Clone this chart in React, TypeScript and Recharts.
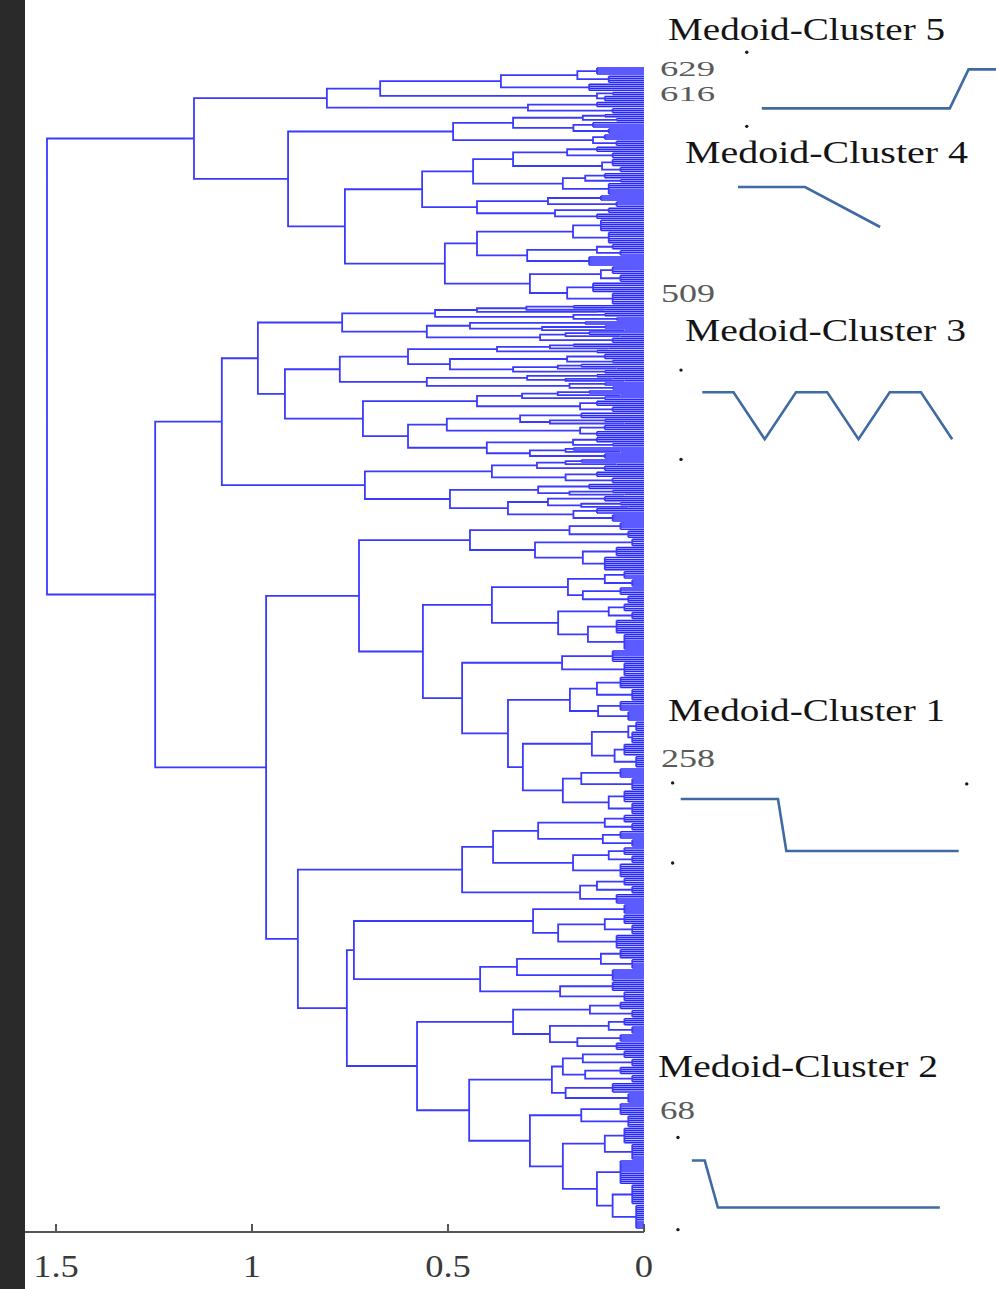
import React from 'react'
import { LineChart, Line, XAxis, YAxis, ComposedChart, Scatter } from 'recharts'

// dendrogram nodes: [height, leaves] is a tight clump near 0, [height, upper, lower] a merge
type Node = [number, number] | [number, Node, Node]

const cluster5Tree: Node = [0.809,
  [0.673,
    [0.365, [0.17, [0.12, 4], [0.09, 4]], [0.14, 4]],
    [0.12, [0.08, 2], [0.1, 3]]],
  [0.296, [0.12, 3], [0.08, 3]]]

const cluster4Tree: Node = [0.908,
  [0.487,
    [0.334, [0.156, [0.1, 2], [0.07, 2]], [0.18, [0.13, 3], [0.09, 3]]],
    [0.13, [0.1, 3], [0.07, 3]]],
  [0.763,
    [0.566,
      [0.436,
        [0.334, [0.196, [0.12, 3], [0.08, 3]], [0.107, [0.08, 4], [0.06, 3]]],
        [0.207, [0.15, [0.1, 3], [0.06, 2]], [0.09, 6]]],
      [0.426, [0.245, [0.11, 3], [0.07, 3]], [0.227, [0.09, 3], [0.12, 3]]]],
    [0.508,
      [0.426, [0.181, [0.11, 6], [0.09, 6]], [0.298, [0.12, [0.08, 3], [0.06, 3]], [0.14, 5]]],
      [0.291, [0.11, [0.08, 4], [0.06, 4]], [0.196, [0.13, 5], [0.08, 6]]]]]]

const cluster3aTree: Node = [0.985,
  [0.77,
    [0.533,
      [0.426, [0.3, [0.18, 2], [0.1, 1]], [0.12, 1]],
      [0.18, [0.1, 2], [0.07, 2]]],
    [0.554,
      [0.444, [0.15, 2], [0.26, [0.1, 2], [0.05, 1]]],
      [0.265, [0.2, [0.14, 2], [0.06, 1]], [0.08, 3]]]],
  [0.916,
    [0.776,
      [0.602,
        [0.375, [0.24, [0.18, 2], [0.09, 1]], [0.12, 2]],
        [0.495, [0.196, [0.1, 3], [0.08, 2]], [0.334, [0.22, [0.16, 2], [0.07, 1]], [0.1, 2]]]],
      [0.554, [0.298, [0.12, 2], [0.2, [0.08, 1], [0.05, 1]]], [0.19, [0.1, 2], [0.08, 2]]]],
    [0.717,
      [0.426, [0.311, [0.22, [0.14, 2], [0.06, 1]], [0.1, 2]], [0.163, [0.12, 3], [0.08, 3]]],
      [0.602,
        [0.503, [0.316, [0.16, 3], [0.24, [0.1, 2], [0.05, 1]]], [0.163, [0.1, 3], [0.12, 3]]],
        [0.401, [0.181, [0.12, 3], [0.08, 2]], [0.291, [0.2, [0.18, 2], [0.06, 1]], [0.1, 3]]]]]]]

const cluster3bTree: Node = [0.712,
  [0.388, [0.273, [0.2, [0.16, 2], [0.07, 1]], [0.1, 3]], [0.2, [0.12, 3], [0.08, 3]]],
  [0.495,
    [0.27, [0.14, 3], [0.19, [0.08, 2], [0.05, 1]]],
    [0.347, [0.245, [0.1, 3], [0.16, [0.06, 2], [0.04, 1]]], [0.18, [0.12, 3], [0.08, 4]]]]]

const cluster1Tree: Node = [0.727,
  [0.444,
    [0.19, [0.06, 4], [0.04, 4]],
    [0.278, [0.03, 4], [0.156, [0.07, 5], [0.1, 7]]]],
  [0.564,
    [0.388,
      [0.194, [0.1, [0.05, 4], [0.03, 4]], [0.156, [0.06, 4], [0.04, 4]]],
      [0.219, [0.09, [0.05, 4], [0.03, 4]], [0.143, [0.07, 7], [0.05, 8]]]],
    [0.464,
      [0.209, [0.08, 6], [0.05, 7]],
      [0.347,
        [0.189, [0.12, [0.06, 6], [0.03, 6]], [0.117, [0.06, 5], [0.04, 5]]],
        [0.309,
          [0.133, [0.04, [0.02, 5], [0.03, 6]], [0.075, [0.05, 6], [0.02, 6]]],
          [0.207, [0.16, [0.06, 5], [0.03, 6]], [0.09, [0.05, 6], [0.03, 6]]]]]]]]

const cluster2Tree: Node = [0.883,
  [0.464,
    [0.385,
      [0.27, [0.1, [0.05, 4], [0.03, 4]], [0.105, [0.06, 4], [0.03, 4]]],
      [0.181, [0.09, [0.05, 4], [0.03, 4]], [0.06, 7]]],
    [0.163, [0.12, [0.05, 4], [0.03, 4]], [0.07, 5]]],
  [0.758,
    [0.74,
      [0.283, [0.05, 5], [0.219, [0.1, [0.05, 5], [0.03, 5]], [0.07, 7]]],
      [0.418, [0.324, [0.11, [0.06, 5], [0.03, 5]], [0.08, 6]], [0.214, [0.08, 5], [0.05, 5]]]],
    [0.579,
      [0.334, [0.138, [0.06, 4], [0.03, 4]], [0.24, [0.09, [0.05, 4], [0.03, 4]], [0.17, [0.06, 4], [0.07, 4]]]],
      [0.446,
        [0.235, [0.207, [0.156, [0.05, 4], [0.03, 4]], [0.15, [0.06, 4], [0.03, 4]]], [0.2, [0.08, 5], [0.04, 5]]],
        [0.291,
          [0.16, [0.06, 6], [0.04, 6]],
          [0.207, [0.1, [0.05, 8], [0.03, 8]], [0.12, [0.06, 12], [0.08, [0.03, 10], [0.02, 12]]]]]]]]]

// top merges: clusters 5+4, 3a+3b, 1+2, then the two halves, then the root
const topHeights = [1.148, 1.077, 0.964, 1.247, 1.523]

const xTicks = [1.5, 1, 0.5, 0]

// medoid curves (time step, value)
const medoid5T = [0, 10, 11, 13]
const medoid5V = [0, 0, 1, 1]
const medoid4T = [0, 2, 4.24]
const medoid4V = [1, 1, 0]
const medoid3T = [0, 1, 2, 3, 4, 5, 6, 7, 8]
const medoid3V = [1, 1, 0, 1, 1, 0, 1, 1, 0]
const medoid1T = [0, 3.5, 3.8, 10]
const medoid1V = [1, 1, 0, 0]
const medoid2T = [0, 0.52, 1.05, 10]
const medoid2V = [1, 1, 0, 0]

const medoid5Dots = [[-0.8, 1.44], [-0.8, -0.46]]
const medoid3Dots = [[-0.68, 1.47], [-0.68, -0.43]]
const medoid1Dots = [[-0.29, 1.31], [-0.29, -0.23], [10.29, 1.29]]
const medoid2Dots = [[-0.56, 1.49], [-0.56, -0.47]]

const clusterNames = ['Medoid-Cluster 5', 'Medoid-Cluster 4', 'Medoid-Cluster 3', 'Medoid-Cluster 1', 'Medoid-Cluster 2']
const leafNames = ['629', '616', '509', '258', '68']

const W = 996
const H = 1289
const PLOT_LEFT = 25
const PLOT_RIGHT = 644
const PLOT_TOP = 64
const PLOT_BOTTOM = 1232
const X_MAX = (PLOT_RIGHT - PLOT_LEFT) / 392
const SERIF = '"Liberation Serif", "Times New Roman", serif'

type Pt = { x: number | null; y: number | null }

function buildDendrogram(root: Node) {
  const links: Pt[] = []
  const leaves: Pt[] = []
  let next = 0
  const walk = (n: Node): { y: number; h: number } => {
    if (n.length === 2) {
      const [h, count] = n
      const first = next
      for (let i = 0; i < count; i++) {
        leaves.push({ x: 0, y: next }, { x: h, y: next }, { x: null, y: null })
        next++
      }
      const last = next - 1
      if (count > 1) links.push({ x: h, y: first }, { x: h, y: last }, { x: null, y: null })
      return { y: (first + last) / 2, h }
    }
    const [h, a, b] = n
    const top = walk(a)
    const bottom = walk(b)
    links.push(
      { x: top.h, y: top.y }, { x: h, y: top.y },
      { x: h, y: bottom.y }, { x: bottom.h, y: bottom.y },
      { x: null, y: null },
    )
    return { y: (top.y + bottom.y) / 2, h }
  }
  walk(root)
  return { links, leaves, count: next }
}

const [hA, hBtop, hBbottom, hB, hRoot] = topHeights
const fullTree: Node = [hRoot,
  [hA, cluster5Tree, cluster4Tree],
  [hB, [hBtop, cluster3aTree, cluster3bTree], [hBbottom, cluster1Tree, cluster2Tree]]]

const dendro = buildDendrogram(fullTree)
const leafPad = (4 * (dendro.count - 1)) / 1160

function AxisTick(props: any) {
  const { x, payload } = props
  return (
    <g>
      <line x1={x} x2={x} y1={PLOT_BOTTOM} y2={PLOT_BOTTOM - 8} stroke="#555" strokeWidth={2} />
      <text
        transform={`translate(${x},${PLOT_BOTTOM + 45}) scale(1.18,1)`}
        textAnchor="middle"
        fontFamily={SERIF}
        fontSize={31}
        fill="#3a3a3a"
      >
        {payload.value}
      </text>
    </g>
  )
}

type SketchProps = {
  box: [number, number, number, number]
  tDomain: [number, number]
  vDomain: [number, number]
  ts: number[]
  vs: number[]
  dots?: number[][]
}

function MedoidSketch({ box, tDomain, vDomain, ts, vs, dots = [] }: SketchProps) {
  const line = ts.map((t, i) => ({ t, v: vs[i] }))
  const dotData = dots.map(([t, v]) => ({ t, v }))
  return (
    <div style={{ position: 'absolute', left: box[0], top: box[1] }}>
      <ComposedChart width={box[2]} height={box[3]} margin={{ top: 0, right: 0, bottom: 0, left: 0 }}>
        <XAxis type="number" dataKey="t" domain={tDomain} hide allowDataOverflow />
        <YAxis type="number" dataKey="v" domain={vDomain} hide allowDataOverflow />
        <Line data={line} dataKey="v" stroke="#3f6aa3" strokeWidth={2.6} dot={false} isAnimationActive={false} />
        <Scatter
          data={dotData}
          dataKey="v"
          isAnimationActive={false}
          shape={(p: any) => <circle cx={p.cx} cy={p.cy} r={1.7} fill="#1a1a1a" />}
        />
      </ComposedChart>
    </div>
  )
}

const labelSpots = [
  { x: 668, y: 40, w: 277 },
  { x: 685, y: 163, w: 283 },
  { x: 685, y: 341, w: 281 },
  { x: 668, y: 721, w: 277 },
  { x: 658, y: 1077, w: 280 },
]
const leafSpots = [
  { x: 660, y: 76, w: 55 },
  { x: 660, y: 101, w: 55 },
  { x: 661, y: 302, w: 54 },
  { x: 661, y: 767, w: 54 },
  { x: 660, y: 1119, w: 35 },
]

export default function App() {
  return (
    <div style={{ position: 'absolute', left: 0, top: 0, width: W, height: H, background: '#fff', overflow: 'hidden' }}>
      <div style={{ position: 'absolute', left: 0, top: 0, width: 25, height: H, background: '#2a2a2a' }} />
      <LineChart width={W} height={H} margin={{ top: PLOT_TOP, right: W - PLOT_RIGHT, bottom: 12, left: PLOT_LEFT }}>
        <XAxis
          type="number"
          dataKey="x"
          domain={[0, X_MAX]}
          reversed
          allowDataOverflow
          ticks={xTicks}
          interval={0}
          height={H - 12 - PLOT_BOTTOM}
          axisLine={{ stroke: '#555', strokeWidth: 2 }}
          tickLine={false}
          tick={<AxisTick />}
        />
        <YAxis type="number" dataKey="y" domain={[-leafPad, dendro.count - 1 + leafPad]} reversed hide allowDataOverflow />
        <Line data={dendro.leaves} dataKey="y" stroke="#2626ff" strokeWidth={1.5} dot={false} connectNulls={false} isAnimationActive={false} />
        <Line data={dendro.links} dataKey="y" stroke="#3a3aff" strokeWidth={1.8} dot={false} connectNulls={false} isAnimationActive={false} />
      </LineChart>

      <MedoidSketch box={[743.2, 45.6, 263.2, 85.8]} tDomain={[-1, 13]} vDomain={[-0.6, 1.6]} ts={medoid5T} vs={medoid5V} dots={medoid5Dots} />
      <MedoidSketch box={[728, 175, 157.5, 64]} tDomain={[-0.3, 4.4]} vDomain={[-0.3, 1.3]} ts={medoid4T} vs={medoid4V} />
      <MedoidSketch box={[670.75, 363.8, 290.6, 103.4]} tDomain={[-1, 8.3]} vDomain={[-0.6, 1.6]} ts={medoid3T} vs={medoid3V} dots={medoid3Dots} />
      <MedoidSketch box={[664.3, 773, 311.4, 101.4]} tDomain={[-0.6, 10.6]} vDomain={[-0.45, 1.5]} ts={medoid1T} vs={medoid1V} dots={medoid1Dots} />
      <MedoidSketch box={[672.2, 1129.5, 275.3, 108.1]} tDomain={[-0.8, 10.3]} vDomain={[-0.65, 1.65]} ts={medoid2T} vs={medoid2V} dots={medoid2Dots} />

      <svg width={W} height={H} style={{ position: 'absolute', left: 0, top: 0, pointerEvents: 'none' }}>
        {clusterNames.map((name, i) => (
          <text key={name} x={labelSpots[i].x} y={labelSpots[i].y} textLength={labelSpots[i].w} lengthAdjust="spacingAndGlyphs"
            fontFamily={SERIF} fontSize={32} fill="#141414">
            {name}
          </text>
        ))}
        {leafNames.map((name, i) => (
          <text key={name} x={leafSpots[i].x} y={leafSpots[i].y} textLength={leafSpots[i].w} lengthAdjust="spacingAndGlyphs"
            fontFamily={SERIF} fontSize={i < 2 ? 21 : 25} fill="#5a5a5a">
            {name}
          </text>
        ))}
      </svg>
    </div>
  )
}
